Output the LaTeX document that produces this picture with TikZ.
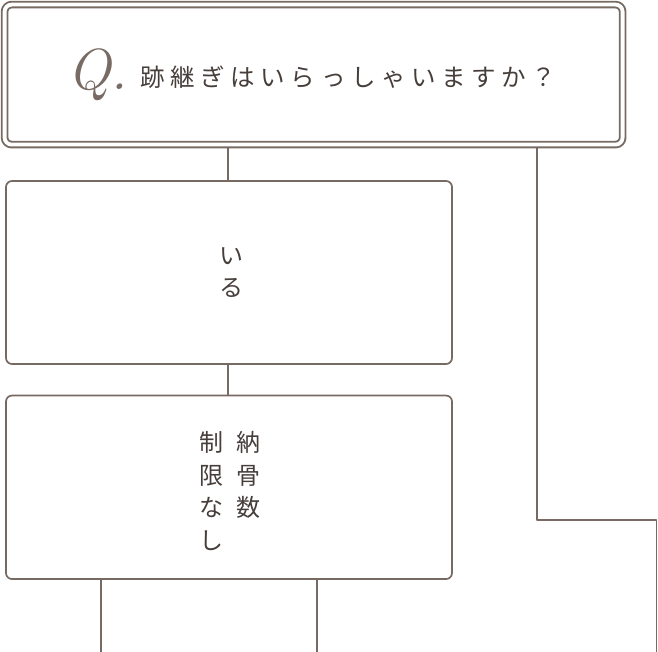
\documentclass[tikz,border=0pt]{standalone}
\usepackage{fontspec}
\newfontfamily\jp{Noto Sans CJK JP}
\definecolor{lc}{RGB}{118,106,98}
\definecolor{tc}{RGB}{70,62,58}
\definecolor{qc}{RGB}{120,107,99}
\begin{document}
\begin{tikzpicture}[x=1pt,y=-1pt,line join=round]
\tikzset{
  conn/.style={draw=lc,line width=1.7pt},
  qbox/.style={draw=lc,line width=1.9pt,double=white,double distance=3.8pt,rounded corners=7pt,
    minimum width=618pt,minimum height=140pt,inner sep=0pt},
  abox/.style={draw=lc,line width=1.7pt,rounded corners=6pt,minimum width=446pt,inner sep=0pt},
  qmark/.style={text=qc,font=\fontsize{58pt}{58pt}\selectfont\itshape,inner sep=0pt,anchor=base west},
  jtext/.style={text=tc,font=\jp\fontsize{24.5pt}{28pt}\selectfont\addfontfeature{LetterSpace=23},inner sep=0pt,anchor=base west},
  vtext/.style={text=tc,font=\jp\fontsize{24pt}{32.8pt}\selectfont,align=center,inner sep=0pt,anchor=north},
}
\useasboundingbox (0,0) rectangle (658,652);
% boxes
\node[qbox] (q) at (313.6,74.6) {};
\node[abox,minimum height=183pt] (a) at (229,272.5) {};
\node[abox,minimum height=183.5pt] (b) at (229,487.3) {};
% texts
\node[qmark] (qq) at (67,90) {Q.};
\node[jtext] (qt) at (140,87) {跡継ぎはいらっしゃいますか？};
\node[vtext] (ta) at (231.5,247) {い\\る};
\node[vtext] (tb1) at (248,431) {納\\骨\\数};
\node[vtext] (tb2) at (211,431) {制\\限\\な\\し};
% connectors
\coordinate (qbot) at ([yshift=-2.85pt]q.south);
\coordinate (x1) at (228,0);
\coordinate (r1) at (537,520);
\coordinate (r2) at (656.5,652);
\coordinate (b1) at (101,652);
\coordinate (b2) at (317,652);
\draw[conn] (qbot -| x1) -- (a.north -| x1);
\draw[conn] (a.south -| x1) -- (b.north -| x1);
\draw[conn] (qbot -| r1) -- (r1) -- (r1 -| r2) -- (r2);
\draw[conn] (b.south -| b1) -- (b1);
\draw[conn] (b.south -| b2) -- (b2);
\end{tikzpicture}
\end{document}
